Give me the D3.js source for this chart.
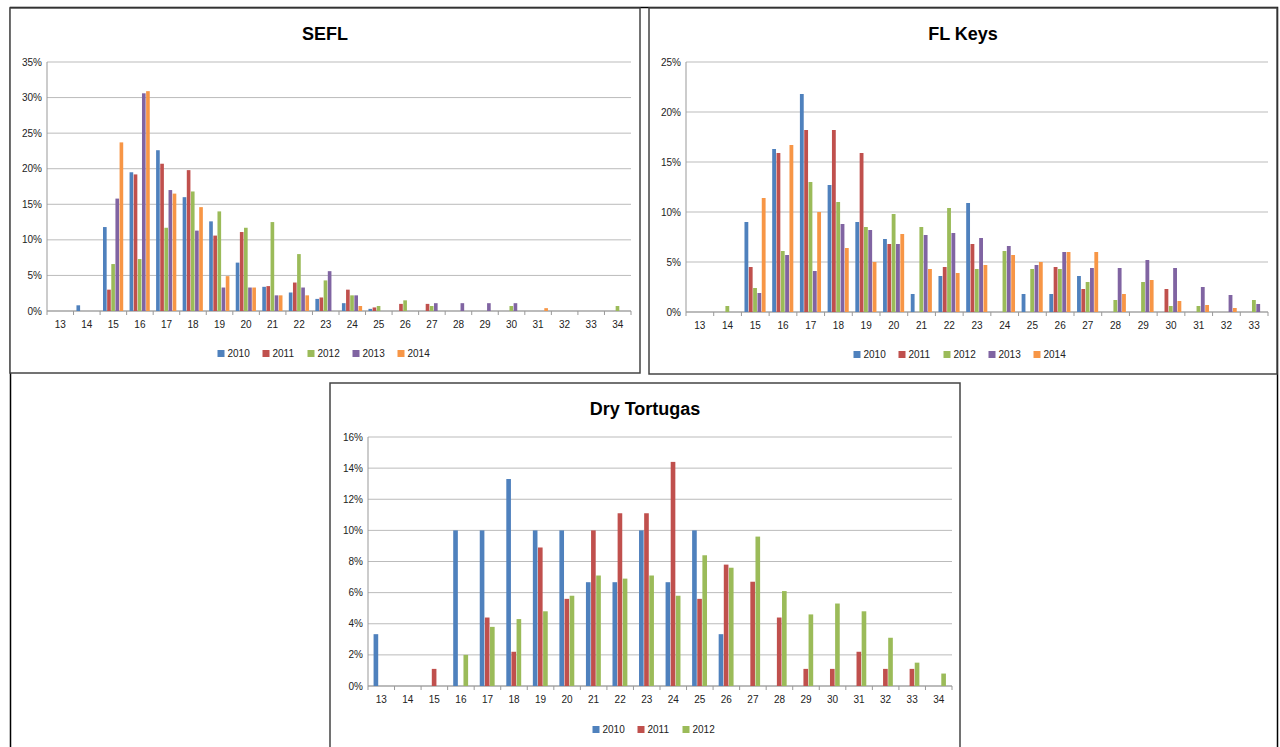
<!DOCTYPE html>
<html><head><meta charset="utf-8">
<script src="https://cdn.jsdelivr.net/npm/d3@7"></script>
<style>
body{margin:0;background:#fff;font-family:"Liberation Sans","Open Sans",sans-serif;}
</style></head>
<body><svg id="chart" width="1280" height="747"></svg>
<script>
// Categories (size classes)
const seflCats = d3.range(13, 35);
const keysCats = d3.range(13, 34);
const dtCats = d3.range(13, 35);

// SEFL values (%), indexed from 13
const sefl2010 = [0,0.8,11.8,19.5,22.6,16,12.6,6.8,3.4,2.6,1.7,1.1,0.3,0,0,0,0,0,0,0,0,0];
const sefl2011 = [0,0,3,19.2,20.7,19.8,10.6,11.1,3.5,4,1.9,3,0.5,1,1,0,0,0,0,0,0,0];
const sefl2012 = [0,0,6.6,7.3,11.7,16.8,14,11.7,12.5,8,4.3,2.2,0.7,1.5,0.7,0,0,0.7,0,0,0,0.7];
const sefl2013 = [0,0,15.8,30.6,17,11.3,3.3,3.3,2.2,3.3,5.6,2.2,0,0,1.1,1.1,1.1,1.1,0,0,0,0];
const sefl2014 = [0,0,23.7,30.9,16.5,14.6,4.9,3.3,2.2,2.2,0,0.7,0,0,0,0,0,0,0.4,0,0,0];

// FL Keys values (%)
const keys2010 = [0,0,9,16.3,21.8,12.7,9,7.3,1.8,3.6,10.9,0,1.8,1.8,3.6,0,0,0,0,0,0];
const keys2011 = [0,0,4.5,15.9,18.2,18.2,15.9,6.8,0,4.5,6.8,0,0,4.5,2.3,0,0,2.3,0,0,0];
const keys2012 = [0,0.6,2.4,6.1,13,11,8.5,9.8,8.5,10.4,4.3,6.1,4.3,4.3,3,1.2,3,0.6,0.6,0,1.2];
const keys2013 = [0,0,1.9,5.7,4.1,8.8,8.2,6.8,7.7,7.9,7.4,6.6,4.7,6,4.4,4.4,5.2,4.4,2.5,1.7,0.8];
const keys2014 = [0,0,11.4,16.7,10,6.4,5,7.8,4.3,3.9,4.7,5.7,5,6,6,1.8,3.2,1.1,0.7,0.4,0];

// Dry Tortugas values (%)
const dt2010 = [3.33,0,0,10,10,13.3,10,10,6.67,6.67,10,6.67,10,3.33,0,0,0,0,0,0,0,0];
const dt2011 = [0,0,1.1,0,4.4,2.2,8.9,5.6,10,11.1,11.1,14.4,5.6,7.8,6.7,4.4,1.1,1.1,2.2,1.1,1.1,0];
const dt2012 = [0,0,0,2,3.8,4.3,4.8,5.8,7.1,6.9,7.1,5.8,8.4,7.6,9.6,6.1,4.6,5.3,4.8,3.1,1.5,0.8];

const yearNames5 = ['2010','2011','2012','2013','2014'];
const yearNames3 = ['2010','2011','2012'];
const colors = ['#4F81BD','#C0504D','#9BBB59','#8064A2','#F79646'];

const svg = d3.select('#chart');

// Outer frame
svg.append('rect').attr('x',10.5).attr('y',7.5).attr('width',1267).attr('height',745)
  .attr('fill','none').attr('stroke','#000').attr('stroke-width',1.5);

function drawPanel(opt) {
    const g = svg.append('g');
    g.append('rect').attr('x',opt.box[0]).attr('y',opt.box[1]).attr('width',opt.box[2]).attr('height',opt.box[3])
      .attr('fill','#fff').attr('stroke','#444').attr('stroke-width',1.5);
    g.append('text').attr('x',opt.box[0]+opt.box[2]/2).attr('y',opt.box[1]+32)
      .attr('text-anchor','middle').attr('font-size','18px').attr('font-weight','bold').text(opt.title);

    const x = d3.scaleBand().domain(opt.cats).range([opt.left, opt.right]).paddingInner(opt.pad).paddingOuter(opt.pad/2);
    const y = d3.scaleLinear().domain([0, opt.max]).range([opt.bottom, opt.top]);

    // gridlines
    const ticks = d3.range(0, opt.max + 0.001, opt.step);
    g.selectAll('.grid').data(ticks).enter().append('line')
      .attr('x1',opt.left).attr('x2',opt.right).attr('y1',d=>y(d)).attr('y2',d=>y(d))
      .attr('stroke','#bbb').attr('stroke-width',1);
    g.selectAll('.yl').data(ticks).enter().append('text')
      .attr('x',opt.left-5).attr('y',d=>y(d)+3.5).attr('text-anchor','end').attr('font-size','10px').attr('fill','#222')
      .text(d=>d+'%');
    g.append('line').attr('x1',opt.left).attr('x2',opt.left).attr('y1',opt.top).attr('y2',opt.bottom+4).attr('stroke','#999');
    g.append('line').attr('x1',opt.left).attr('x2',opt.right).attr('y1',opt.bottom).attr('y2',opt.bottom).attr('stroke','#999');

    const step = x.step();
    opt.cats.forEach((c,i) => {
        g.append('line').attr('x1',opt.left+step*(i+1)).attr('x2',opt.left+step*(i+1))
          .attr('y1',opt.bottom).attr('y2',opt.bottom+4).attr('stroke','#999');
        g.append('text').attr('x',opt.left+step*(i+0.5)).attr('y',opt.bottom+17)
          .attr('text-anchor','middle').attr('font-size','10px').attr('fill','#222').text(c);
    });

    const xs = d3.scaleBand().domain(d3.range(opt.series.length)).range([0, x.bandwidth()]);
    opt.series.forEach((s,si) => {
        g.selectAll('.b'+si).data(s).enter().append('rect')
          .attr('x',(d,i)=>x(opt.cats[i])+xs(si)).attr('width',xs.bandwidth()-0.5)
          .attr('y',d=>y(d)).attr('height',d=>opt.bottom-y(d)).attr('fill',colors[si]);
    });

    // legend
    const lw = 45;
    const lx0 = opt.legendX - opt.names.length*lw/2;
    opt.names.forEach((n,i) => {
        g.append('rect').attr('x',lx0+i*lw).attr('y',opt.legendY-7).attr('width',7).attr('height',7).attr('fill',colors[i]);
        g.append('text').attr('x',lx0+i*lw+10).attr('y',opt.legendY).attr('font-size','10px').attr('fill','#222').text(n);
    });
}

drawPanel({box:[10,8,630,365], title:'SEFL', cats:seflCats, left:47, right:631, top:62, bottom:311, max:35, step:5,
    pad:0.22, series:[sefl2010,sefl2011,sefl2012,sefl2013,sefl2014], names:yearNames5, legendX:330, legendY:357});
drawPanel({box:[649,8,628,366], title:'FL Keys', cats:keysCats, left:686, right:1268, top:62, bottom:312, max:25, step:5,
    pad:0.22, series:[keys2010,keys2011,keys2012,keys2013,keys2014], names:yearNames5, legendX:966, legendY:358});
drawPanel({box:[330,383,630,370], title:'Dry Tortugas', cats:dtCats, left:368, right:952, top:437, bottom:686, max:16, step:2,
    pad:0.42, series:[dt2010,dt2011,dt2012], names:yearNames3, legendX:660, legendY:733});
</script></body></html>
